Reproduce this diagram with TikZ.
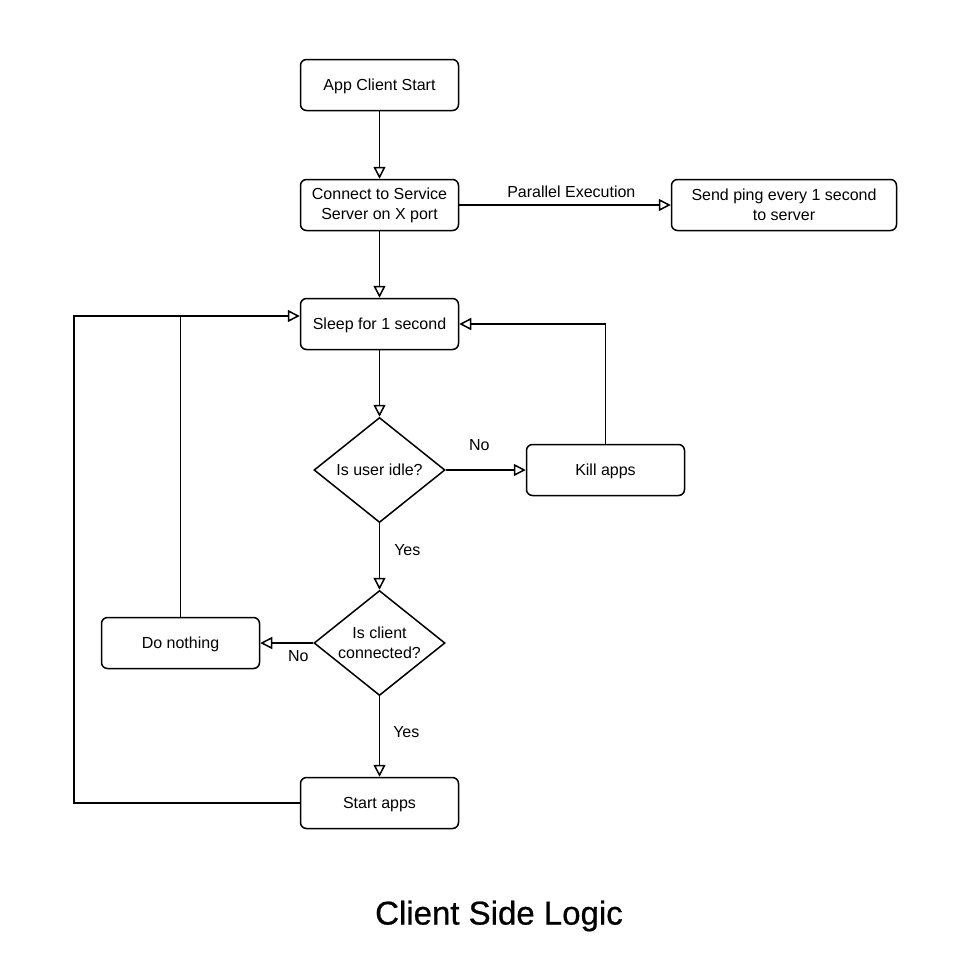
\documentclass[tikz,border=0pt]{standalone}
\usepackage{fontspec}
\setmainfont{Liberation Sans}
\newfontface\titlefont{Liberation Sans}[FakeBold=0.7]
\usetikzlibrary{shapes.geometric,arrows.meta}
\begin{document}
\begin{tikzpicture}[x=1pt,y=-1pt,
  every node/.style={font=\fontsize{16}{20}\selectfont},
  box/.style={draw, line width=1.5pt, rounded corners=6pt, minimum width=158pt, minimum height=51pt, align=center, inner sep=2pt},
  one/.style={text height=12.5pt, text depth=1pt},
  dec/.style={draw, line width=1.5pt, shape=diamond, minimum width=131pt, minimum height=105pt, inner sep=-6pt, align=center},
  conn/.style={line width=1.5pt, -{Triangle[open, length=12pt, width=12pt, line width=1.5pt]}},
  plain/.style={line width=1.5pt},
  lbl/.style={inner sep=0pt}
]
\useasboundingbox[fill=white] (0,0) rectangle (976,953);

\node[box, one] (start) at (379.5,85) {App Client Start};
\node[box] (connect) at (379.5,205) {Connect to Service\\Server on X port};
\node[box, minimum width=225pt] (ping) at (784,205) {Send ping every 1 second\\to server};
\node[box, one] (sleep) at (379.5,324) {Sleep for 1 second};
\node[dec, one] (idle) at (379.5,470) {Is user idle?};
\node[box, one] (kill) at (605.5,470) {Kill apps};
\node[dec] (client) at (379.5,643) {Is client\\connected?};
\node[box, one] (nothing) at (180.5,643) {Do nothing};
\node[box, one] (startapps) at (379.5,803) {Start apps};
\node[lbl, font=\titlefont\fontsize{33}{38}\selectfont] (title) at (499,916) {Client Side Logic};

\coordinate (loopL) at (74,316);
\coordinate (sleepin) at ([yshift=8pt]sleep.west);

\draw[conn] (start) -- (connect);
\draw[conn] (connect) -- node[lbl, pos=0.53, above=7pt] (par) {Parallel Execution} (ping);
\draw[conn] (connect) -- (sleep);
\draw[conn] (sleep) -- (idle);
\draw[conn] (idle) -- node[lbl, pos=0.42, above=19pt] (no1) {No} (kill);
\draw[conn] (kill.north) |- (sleep.east);
\draw[conn] (idle) -- node[lbl, pos=0.4, anchor=west, xshift=14pt] (yes1) {Yes} (client);
\draw[conn] (client) -- node[lbl, pos=0.28, below=7pt] (no2) {No} (nothing);
\draw[conn] (nothing.north) |- (sleepin);
\draw[conn] (client) -- node[lbl, pos=0.45, anchor=west, xshift=13pt] (yes2) {Yes} (startapps);
\draw[plain] (startapps.west) -| (loopL) -- (nothing.north |- loopL);
\end{tikzpicture}
\end{document}
